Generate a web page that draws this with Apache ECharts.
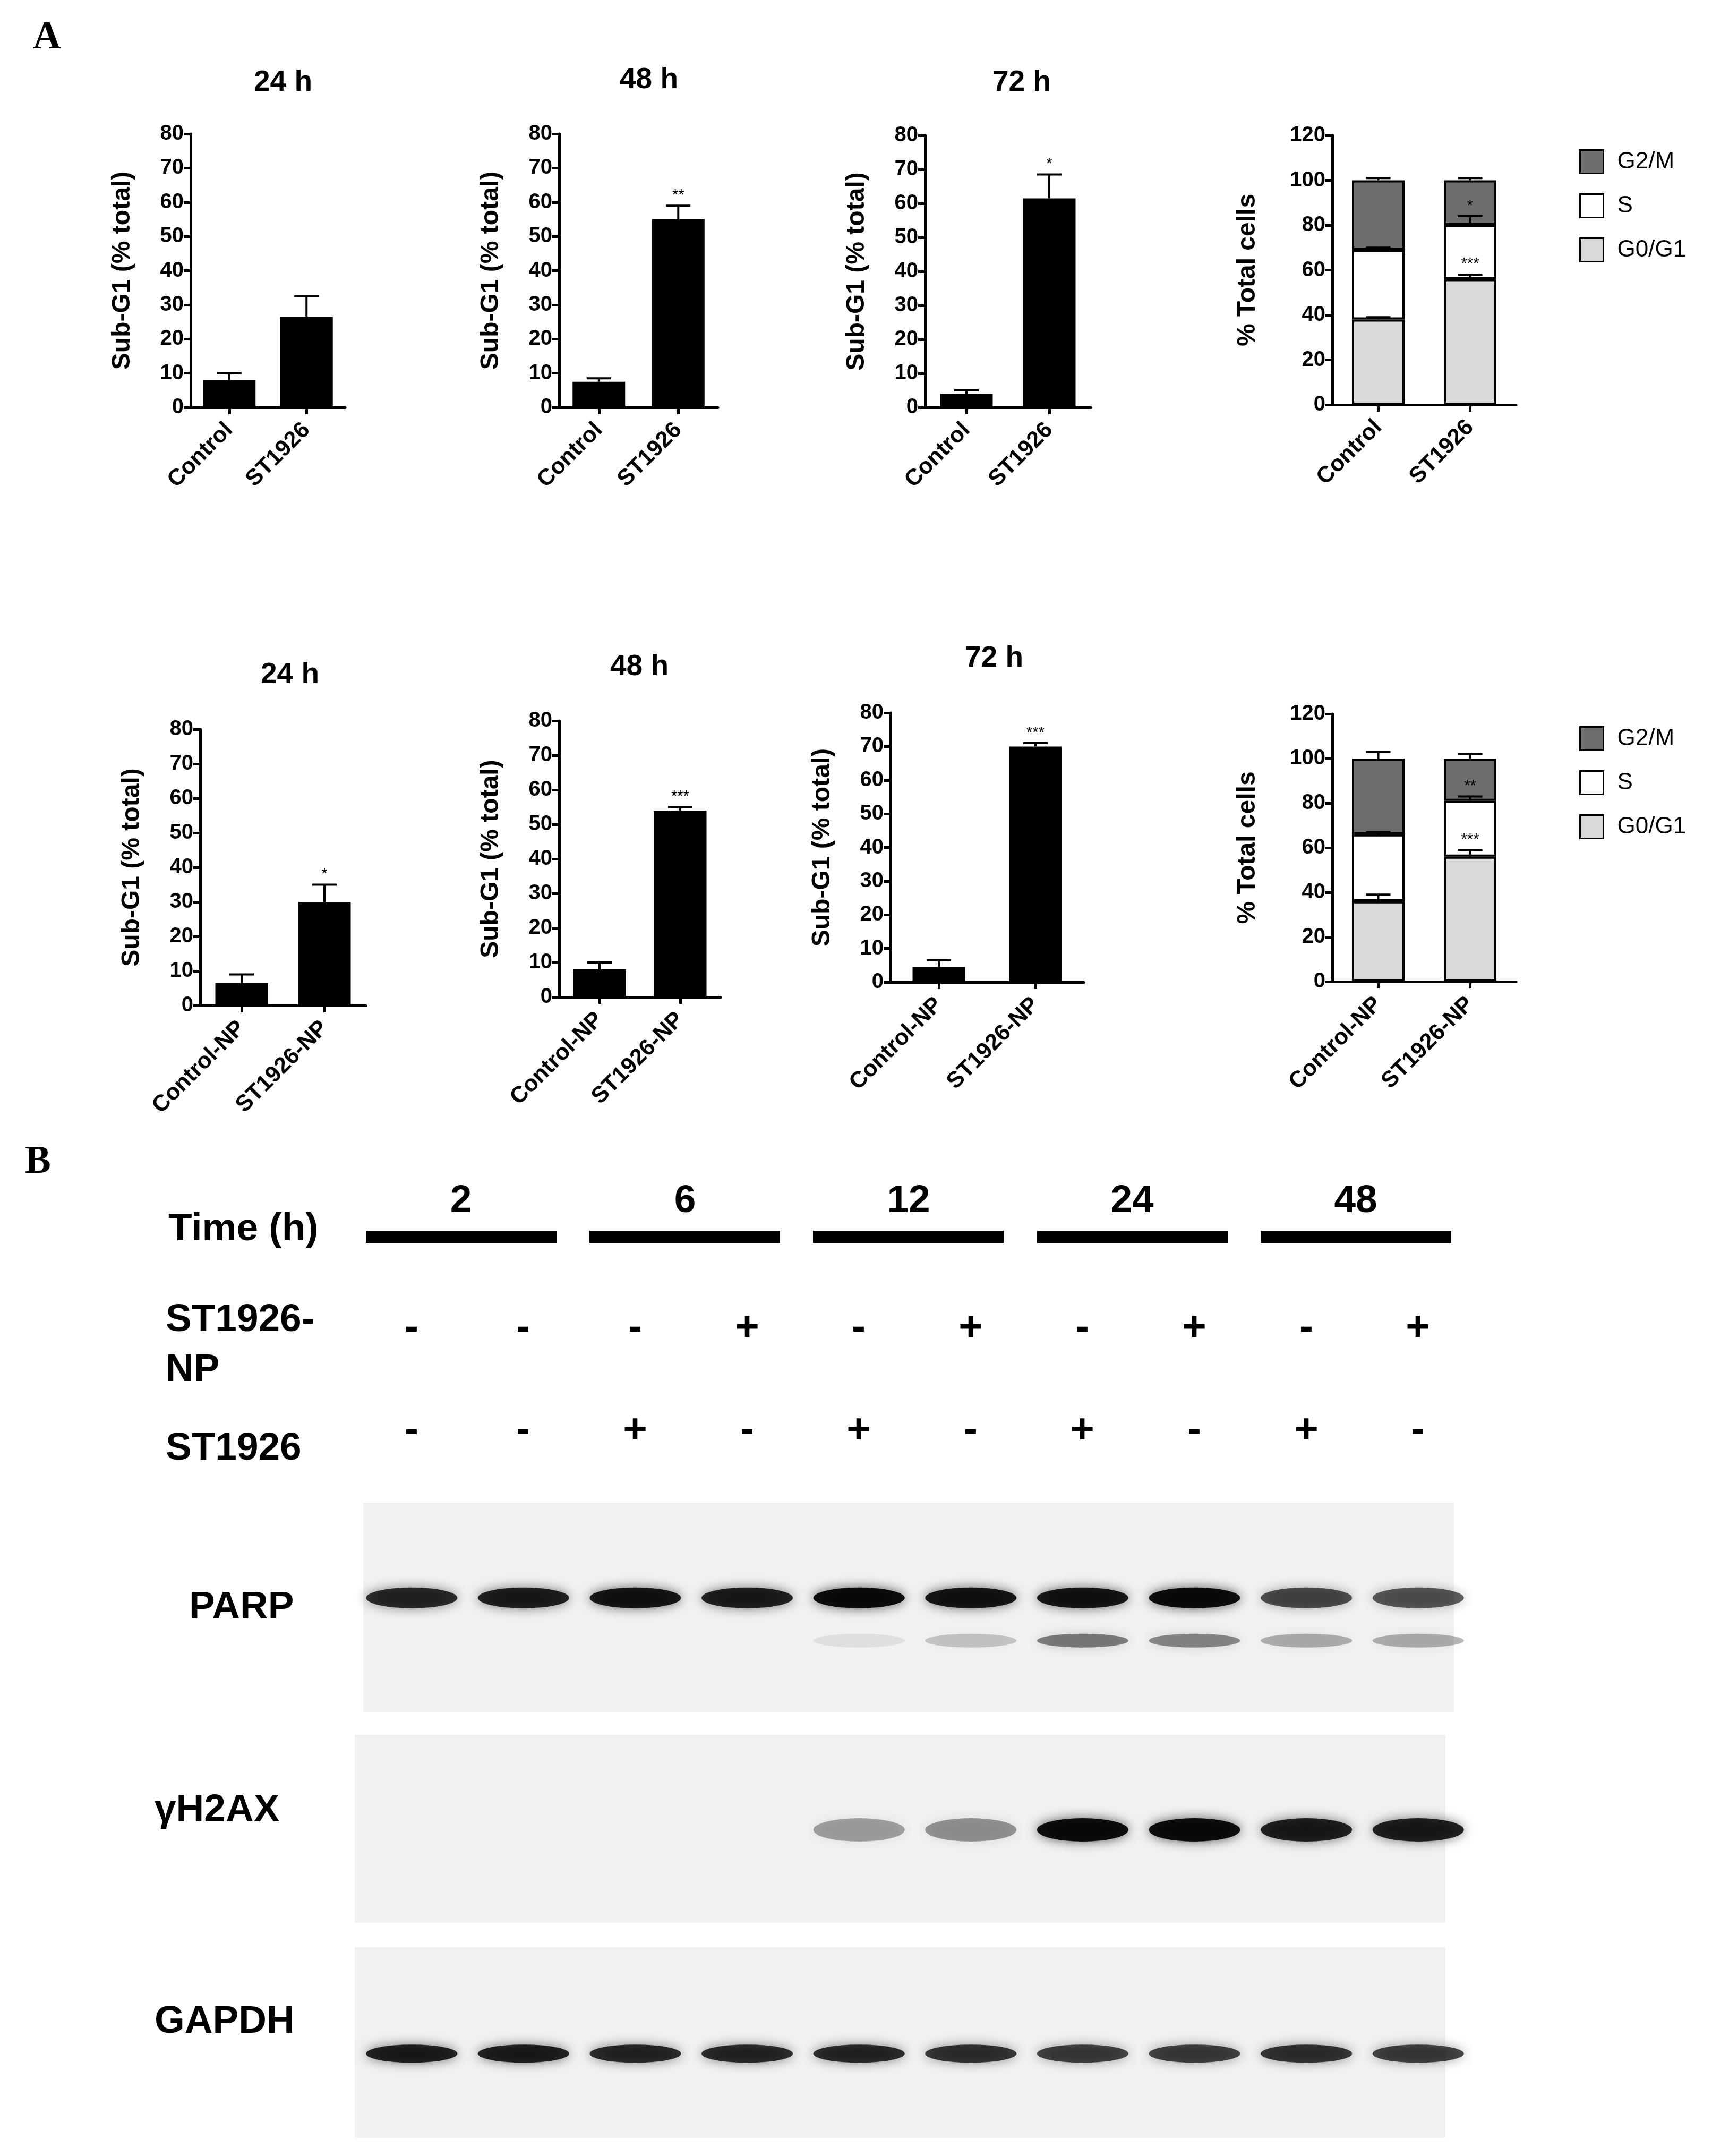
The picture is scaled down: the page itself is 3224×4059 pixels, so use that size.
<!DOCTYPE html>
<html>
<head>
<meta charset="utf-8">
<script src="https://cdn.jsdelivr.net/npm/echarts@6/dist/echarts.min.js"></script>
<style>html,body{margin:0;padding:0;background:#fff}#main{width:3224px;height:4059px}</style>
</head>
<body>
<div id="main"></div>
<script>
// data
var catsA = ['Control', 'ST1926'];
var catsB = ['Control-NP', 'ST1926-NP'];
var times = ['24 h', '48 h', '72 h'];
var subG1Row1 = [[8, 26.5], [7.5, 55], [4, 61.5]];
var subG1Row1Err = [[2, 6], [1, 4], [1, 7]];
var subG1Row1Sig = [['', ''], ['', '**'], ['', '*']];
var subG1Row2 = [[6.5, 30], [8, 54], [4.5, 70]];
var subG1Row2Err = [[2.5, 5], [2, 1], [2, 1]];
var subG1Row2Sig = [['', '*'], ['', '***'], ['', '***']];
var phases = ['G0/G1', 'S', 'G2/M'];
var phaseColors = ['#d9d9d9', '#ffffff', '#6e6e6e'];
var cycleRow1 = [[38, 56], [31, 24], [31, 20]];
var cycleRow1Err = [[1, 2], [1, 4], [1, 1]];
var cycleRow1Sig = [['', '***'], ['', '*'], ['', '']];
var cycleRow2 = [[36, 56], [30, 25], [34, 19]];
var cycleRow2Err = [[3, 3], [1, 2], [3, 2]];
var cycleRow2Sig = [['', '***'], ['', '**'], ['', '']];

var timeGroups = ['2', '6', '12', '24', '48'];
var npSigns = ['-', '-', '-', '+', '-', '+', '-', '+', '-', '+'];
var stSigns = ['-', '-', '+', '-', '+', '-', '+', '-', '+', '-'];
var parpFull = [0.85, 0.9, 0.95, 0.9, 1, 0.95, 0.95, 1, 0.7, 0.65];
var parpCleaved = [0, 0, 0, 0, 0.08, 0.2, 0.5, 0.45, 0.3, 0.3];
var h2ax = [0, 0, 0, 0, 0.35, 0.4, 1, 1, 0.9, 0.9];
var gapdh = [0.9, 0.9, 0.85, 0.85, 0.85, 0.8, 0.75, 0.75, 0.8, 0.75];

var S = 2.6;
function px(v) { return Math.round(v * S); }
var FONT = 'Liberation Sans';

var myChart = echarts.init(document.getElementById('main'));

var grids = [], xAxes = [], yAxes = [], series = [], graphics = [], legends = [];

function ctext(x, y, text, font) {
    return { type: 'text', x: px(x), y: px(y), style: { text: text, align: 'center', verticalAlign: 'middle', font: font, fill: '#000' } };
}

function errSeries(gi, vals, errs, sigs, bases) {
    var data = vals.map(function (v, i) {
        var base = bases ? bases[i] : 0;
        return [i, base + v, errs[i], sigs[i]];
    });
    return {
        type: 'custom', xAxisIndex: gi, yAxisIndex: gi, z: 10,
        data: data,
        renderItem: function (params, api) {
            var x = api.value(0), y = api.value(1), e = api.value(2);
            var p0 = api.coord([x, y]), p1 = api.coord([x, y + e]);
            var cap = px(9);
            var children = [
                { type: 'line', shape: { x1: p0[0], y1: p0[1], x2: p1[0], y2: p1[1] }, style: { stroke: '#000', lineWidth: px(1.6) } },
                { type: 'line', shape: { x1: p1[0] - cap, y1: p1[1], x2: p1[0] + cap, y2: p1[1] }, style: { stroke: '#000', lineWidth: px(1.6) } }
            ];
            var sig = data[params.dataIndex][3];
            if (sig) {
                children.push({ type: 'text', style: { text: sig, x: p1[0], y: p1[1] - px(2), align: 'center', verticalAlign: 'bottom', font: px(11) + 'px ' + FONT, fill: '#000' } });
            }
            return { type: 'group', children: children };
        }
    };
}

function addGrid(g) {
    var gi = grids.length;
    grids.push({ left: px(g.left), top: px(g.top), width: px(g.width), height: px(g.height) });
    xAxes.push({
        gridIndex: gi, type: 'category', data: g.cats,
        axisLine: { lineStyle: { color: '#000', width: px(2) } },
        axisTick: { show: true, length: px(5), lineStyle: { width: px(2) }, alignWithLabel: true },
        axisLabel: { rotate: 45, color: '#000', fontFamily: FONT, fontWeight: 'bold', fontSize: px(16.5), margin: px(14), interval: 0 }
    });
    yAxes.push({
        gridIndex: gi, type: 'value', min: 0, max: g.max, interval: g.interval,
        name: g.yname, nameLocation: 'middle', nameGap: px(g.nameGap), nameRotate: 90,
        nameTextStyle: { color: '#000', fontFamily: FONT, fontWeight: 'bold', fontSize: px(18.5) },
        axisLine: { show: true, lineStyle: { color: '#000', width: px(2) } },
        axisTick: { show: true, length: px(5), lineStyle: { width: px(2) } },
        splitLine: { show: false },
        axisLabel: { color: '#000', fontFamily: FONT, fontWeight: 'bold', fontSize: px(15.5), margin: px(5) }
    });
    if (g.title) {
        graphics.push(ctext(g.titleX, g.titleY, g.title, 'bold ' + px(21) + 'px ' + FONT));
    }
    return gi;
}

function subG1(g, vals, errs, sigs) {
    g.max = 80; g.interval = 10; g.yname = 'Sub-G1 (% total)'; g.nameGap = 40;
    var gi = addGrid(g);
    series.push({ type: 'bar', xAxisIndex: gi, yAxisIndex: gi, data: vals, barWidth: px(38), itemStyle: { color: '#000' } });
    series.push(errSeries(gi, vals, errs, sigs));
}

function cycle(g, vals, errs, sigs, legendTop) {
    g.max = 120; g.interval = 20; g.yname = '% Total cells'; g.nameGap = 52;
    var gi = addGrid(g);
    var base = [0, 0];
    vals.forEach(function (v, k) {
        series.push({ type: 'bar', name: phases[k], stack: 'c' + gi, xAxisIndex: gi, yAxisIndex: gi, data: v, barWidth: px(38),
            itemStyle: { color: phaseColors[k], borderColor: '#000', borderWidth: px(1.5) } });
        series.push(errSeries(gi, v, errs[k], sigs[k], base.slice()));
        base = base.map(function (b, i) { return b + v[i]; });
    });
    legends.push({
        data: phases.slice().reverse(), orient: 'vertical', left: px(1142), top: px(legendTop), itemGap: px(14),
        itemWidth: px(17), itemHeight: px(17), icon: 'rect', selectedMode: false,
        itemStyle: { borderColor: '#000', borderWidth: px(1) },
        textStyle: { color: '#000', fontFamily: FONT, fontSize: px(17), padding: [0, 0, 0, px(8)] }
    });
}

// row 1
var row1 = [
    { left: 138, top: 97, width: 112, height: 198, titleX: 205, titleY: 60 },
    { left: 405, top: 97, width: 115, height: 198, titleX: 470, titleY: 58 },
    { left: 670, top: 98, width: 120, height: 197, titleX: 740, titleY: 60 }
];
row1.forEach(function (g, i) { g.cats = catsA; g.title = times[i]; subG1(g, subG1Row1[i], subG1Row1Err[i], subG1Row1Sig[i]); });
cycle({ left: 965, top: 98, width: 133, height: 195, cats: catsA }, cycleRow1, cycleRow1Err, cycleRow1Sig, 106);

// row 2
var row2 = [
    { left: 145, top: 528, width: 120, height: 200, titleX: 210, titleY: 489 },
    { left: 405, top: 522, width: 117, height: 200, titleX: 463, titleY: 483 },
    { left: 645, top: 516, width: 140, height: 195, titleX: 720, titleY: 477 }
];
row2.forEach(function (g, i) { g.cats = catsB; g.title = times[i]; subG1(g, subG1Row2[i], subG1Row2Err[i], subG1Row2Sig[i]); });
cycle({ left: 965, top: 517, width: 133, height: 194, cats: catsB }, cycleRow2, cycleRow2Err, cycleRow2Sig, 524);

// panel labels
graphics.push({ type: 'text', left: px(24), top: px(14), style: { text: 'A', font: 'bold ' + px(28) + 'px "Liberation Serif"', fill: '#000' } });
graphics.push({ type: 'text', left: px(18), top: px(828), style: { text: 'B', font: 'bold ' + px(28) + 'px "Liberation Serif"', fill: '#000' } });

// ---- blot (B) ----
var laneX0 = 298, laneStep = 81;
function laneX(i) { return laneX0 + laneStep * i; }
var bigFont = 'bold ' + px(28) + 'px ' + FONT;
var signFont = 'bold ' + px(30) + 'px ' + FONT;
graphics.push({ type: 'text', left: px(122), top: px(876), style: { text: 'Time (h)', font: bigFont, fill: '#000' } });
timeGroups.forEach(function (t, k) {
    var x1 = laneX(2 * k) - 33, x2 = laneX(2 * k + 1) + 24;
    graphics.push({ type: 'rect', shape: { x: px(x1), y: px(891), width: px(x2 - x1), height: px(9) }, style: { fill: '#000' } });
    graphics.push(ctext((x1 + x2) / 2, 870, t, bigFont));
});
graphics.push({ type: 'text', left: px(120), top: px(938), style: { text: 'ST1926-\nNP', font: bigFont, lineHeight: px(36), fill: '#000' } });
graphics.push({ type: 'text', left: px(120), top: px(1035), style: { text: 'ST1926', font: bigFont, fill: '#000' } });
npSigns.forEach(function (s, i) { graphics.push(ctext(laneX(i), 962, s, signFont)); });
stSigns.forEach(function (s, i) { graphics.push(ctext(laneX(i), 1036, s, signFont)); });
// blot boxes
var boxes = [
    { name: 'PARP', x: 263, y: 1088, w: 790, h: 152, ty: 1150 },
    { name: 'γH2AX', x: 257, y: 1256, w: 790, h: 136, ty: 1297 },
    { name: 'GAPDH', x: 257, y: 1410, w: 790, h: 138, ty: 1450 }
];
boxes.forEach(function (b) {
    graphics.push({ type: 'rect', z: -1, shape: { x: px(b.x), y: px(b.y), width: px(b.w), height: px(b.h) }, style: { fill: '#f1f1f1' } });
    graphics.push({ type: 'text', left: px(b.name === 'PARP' ? 137 : 112), top: px(b.ty), style: { text: b.name, font: bigFont, fill: '#000' } });
});

var gb = grids.length;
grids.push({ left: px(laneX0 - laneStep / 2), width: px(laneStep * 10), top: px(1080), height: px(480) });
xAxes.push({ gridIndex: gb, type: 'value', min: -0.5, max: 9.5, show: false });
yAxes.push({ gridIndex: gb, type: 'value', min: 1080, max: 1560, inverse: true, show: false });
var bandRows = [
    { vals: parpFull, y: 1157, h: 15 },
    { vals: parpCleaved, y: 1188, h: 10 },
    { vals: h2ax, y: 1325, h: 17 },
    { vals: gapdh, y: 1487, h: 13 }
];
bandRows.forEach(function (r) {
    series.push({
        type: 'scatter', xAxisIndex: gb, yAxisIndex: gb, symbol: 'circle', symbolSize: [px(66), px(r.h)],
        silent: true,
        data: r.vals.map(function (v, i) {
            return { value: [i, r.y], itemStyle: { opacity: v * 0.92, color: '#000', shadowBlur: px(8), shadowColor: 'rgba(0,0,0,' + (v * 0.7) + ')' } };
        })
    });
});

myChart.setOption({
    backgroundColor: '#fff',
    animation: false,
    grid: grids, xAxis: xAxes, yAxis: yAxes,
    legend: legends,
    series: series,
    graphic: graphics
});
</script>
</body>
</html>
